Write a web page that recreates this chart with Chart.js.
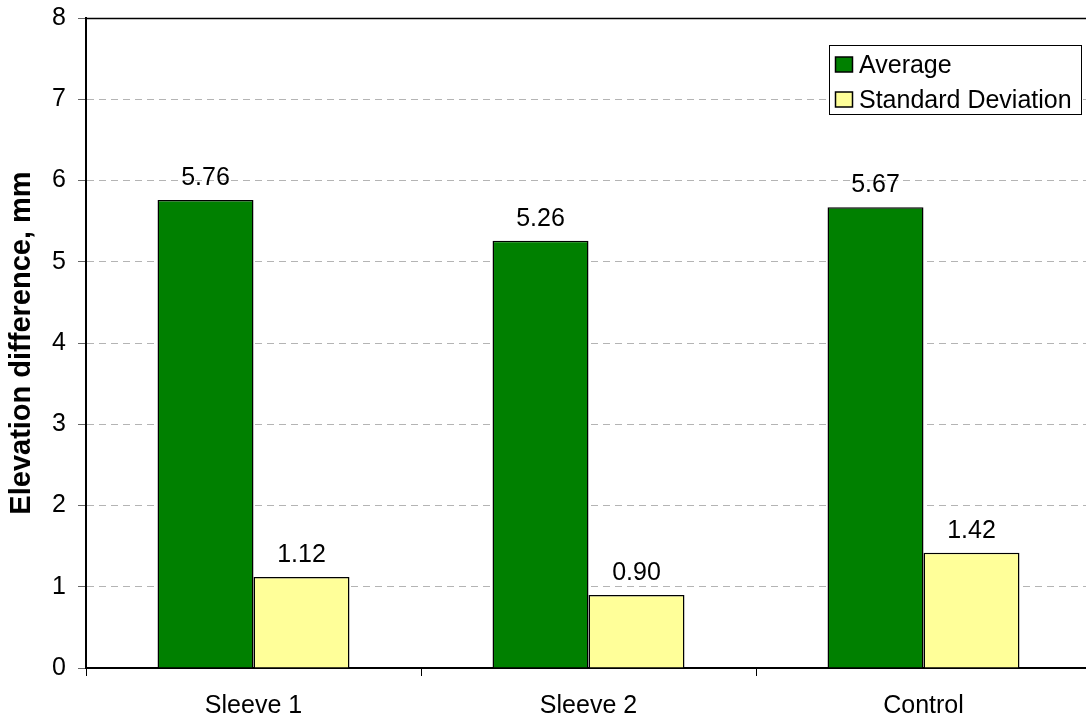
<!DOCTYPE html>
<html>
<head>
<meta charset="utf-8">
<title>Elevation difference</title>
<script src="https://cdn.jsdelivr.net/npm/chart.js@4/dist/chart.umd.min.js"></script>
<style>
  html, body { margin: 0; padding: 0; background: #fff; overflow: hidden; }
  #wrap { position: absolute; left: 0; top: 0; width: 1092px; height: 719px; }
</style>
</head>
<body>
<div id="wrap"><canvas id="c" width="1092" height="719"></canvas></div>
<script>
const categories = ['Sleeve 1', 'Sleeve 2', 'Control'];
const averageValues = [5.76, 5.26, 5.67];
const stdDevValues = [1.12, 0.90, 1.42];
const seriesNames = ['Average', 'Standard Deviation'];
const yTitle = 'Elevation difference, mm';

const FONT = '"Liberation Sans", Arial, sans-serif';

// value labels above each bar
const valueLabels = {
  id: 'valueLabels',
  afterDatasetsDraw(chart) {
    const ctx = chart.ctx;
    ctx.save();
    ctx.font = '25px ' + FONT;
    ctx.fillStyle = '#000';
    ctx.textAlign = 'center';
    ctx.textBaseline = 'alphabetic';
    chart.data.datasets.forEach((ds, i) => {
      chart.getDatasetMeta(i).data.forEach((bar, j) => {
        ctx.fillText(ds.data[j].toFixed(2), bar.x, bar.y - 15);
      });
    });
    ctx.restore();
  }
};

// top frame line and boxed legend in the upper right
const frameAndLegend = {
  id: 'frameAndLegend',
  afterDraw(chart) {
    const ctx = chart.ctx;
    const a = chart.chartArea;
    ctx.save();
    ctx.strokeStyle = '#000';
    ctx.lineWidth = 1.5;
    ctx.beginPath();
    ctx.moveTo(a.left, a.top + 0.5);
    ctx.lineTo(a.right, a.top + 0.5);
    ctx.stroke();

    const bx = 829.5, by = 45.5, bw = 252, bh = 69;
    ctx.lineWidth = 1;
    ctx.fillStyle = '#fff';
    ctx.fillRect(bx, by, bw, bh);
    ctx.strokeStyle = '#000';
    ctx.strokeRect(bx, by, bw, bh);
    ctx.font = '25px ' + FONT;
    ctx.textBaseline = 'alphabetic';
    ctx.textAlign = 'left';
    chart.data.datasets.forEach((ds, i) => {
      const base = by + 27.5 + i * 35;
      ctx.fillStyle = ds.backgroundColor;
      ctx.fillRect(bx + 6, base - 16, 17, 15);
      ctx.lineWidth = 1.5;
      ctx.strokeStyle = '#000';
      ctx.strokeRect(bx + 6, base - 16, 17, 15);
      ctx.fillStyle = '#000';
      ctx.fillText(ds.label, bx + 29.5, base);
    });
    ctx.restore();
  }
};

new Chart(document.getElementById('c'), {
  type: 'bar',
  data: {
    labels: categories,
    datasets: [
      {
        label: seriesNames[0],
        data: averageValues,
        backgroundColor: '#008000',
        borderColor: '#000',
        borderWidth: 1.5,
        borderSkipped: 'bottom'
      },
      {
        label: seriesNames[1],
        data: stdDevValues,
        backgroundColor: '#FFFF99',
        borderColor: '#000',
        borderWidth: 1.5,
        borderSkipped: 'bottom'
      }
    ]
  },
  options: {
    responsive: false,
    animation: false,
    devicePixelRatio: 1,
    layout: { padding: { left: 0, right: 1, top: 18, bottom: 0 } },
    datasets: { bar: { categoryPercentage: 0.573, barPercentage: 1.0 } },
    plugins: {
      legend: { display: false },
      tooltip: { enabled: false }
    },
    scales: {
      x: {
        grid: {
          offset: true,
          drawOnChartArea: false,
          drawTicks: true,
          tickLength: 8,
          color: '#000'
        },
        border: { color: '#000', width: 2 },
        ticks: {
          color: '#000',
          font: { family: FONT, size: 25 },
          padding: 15,
          maxRotation: 0
        },
        afterFit(scale) {
          scale.height = 51;
          scale.paddingLeft = 0;
          scale.paddingRight = 0;
        }
      },
      y: {
        min: 0,
        max: 8,
        ticks: {
          stepSize: 1,
          color: '#000',
          font: { family: FONT, size: 25 },
          padding: 12
        },
        grid: {
          color: (c) => (c.tick && c.tick.value === 0) ? '#000' : '#b4b4b4',
          tickColor: '#666',
          tickLength: 8,
          lineWidth: 1
        },
        border: { color: '#000', width: 2, dash: [7, 5] },
        title: {
          display: true,
          text: yTitle,
          color: '#000',
          font: { family: FONT, size: 29, weight: 'bold' },
          padding: { top: 5, bottom: 0 }
        },
        afterFit(scale) {
          scale.width = 86;
          scale.paddingTop = 0;
          scale.paddingBottom = 0;
        }
      }
    }
  },
  plugins: [valueLabels, frameAndLegend]
});
</script>
</body>
</html>
